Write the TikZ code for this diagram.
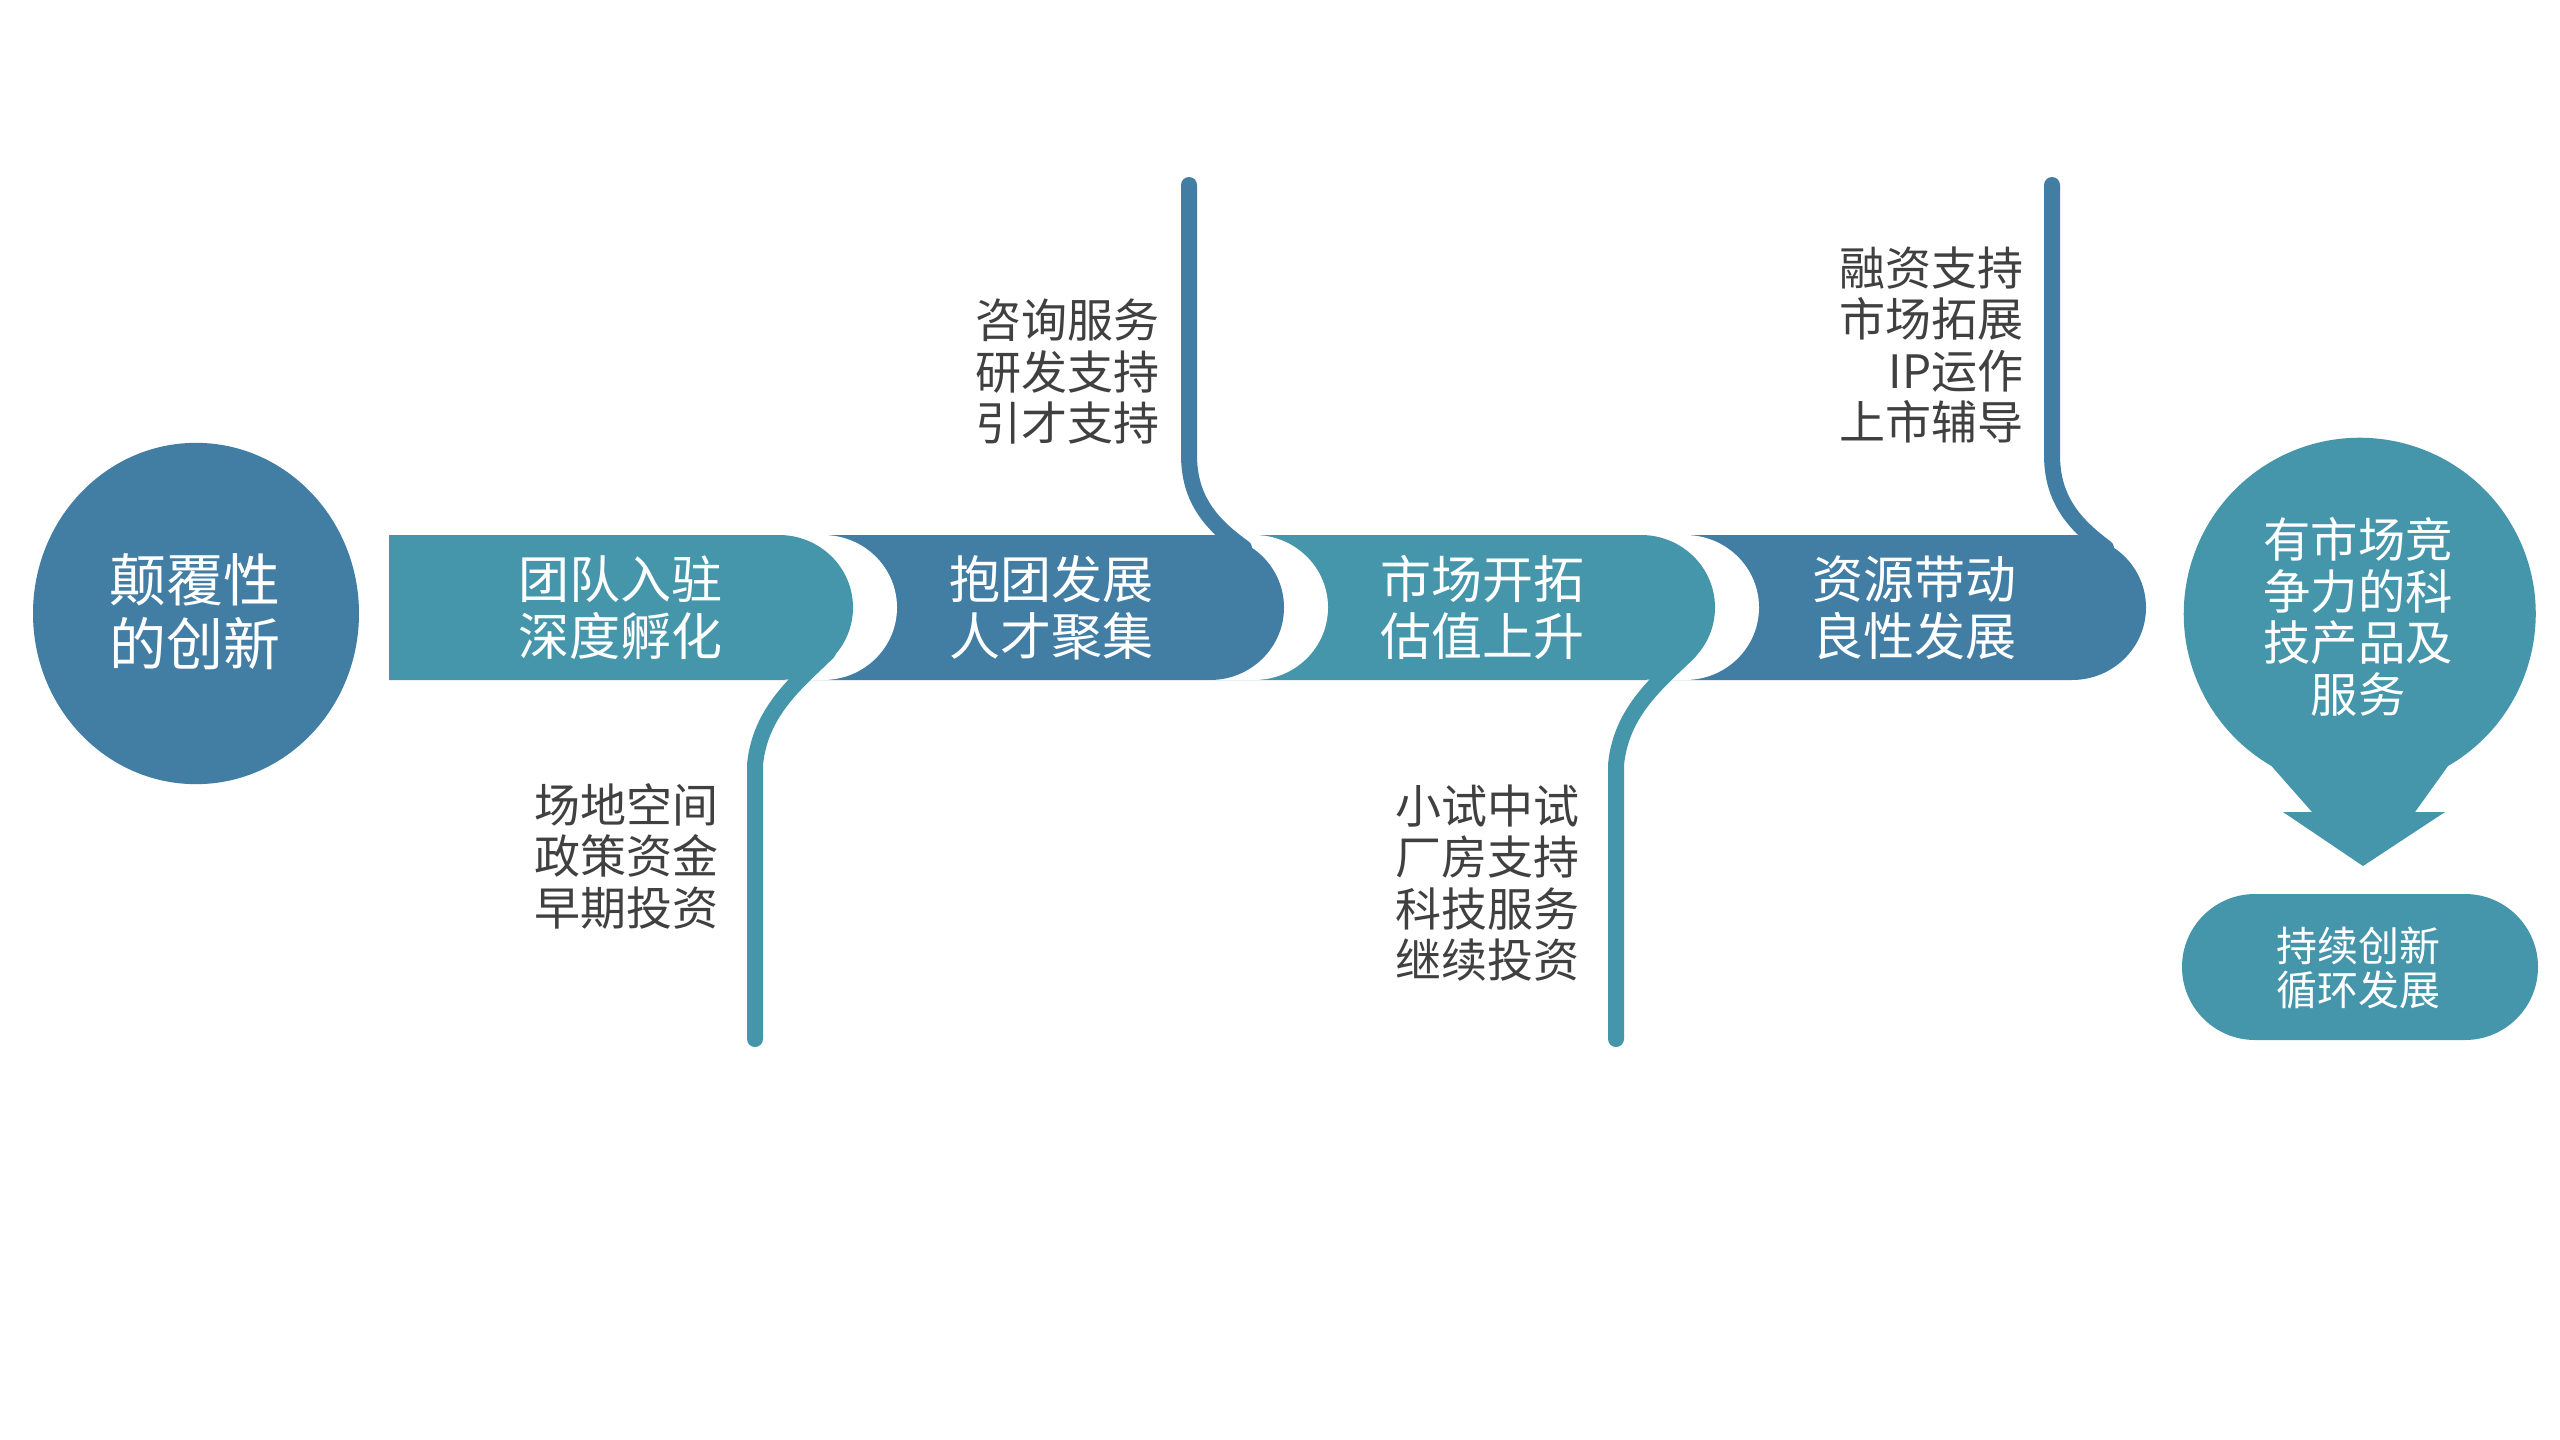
\documentclass[tikz,border=0pt]{standalone}
\usepackage{fontspec}
\setmainfont{Noto Sans CJK SC}
\definecolor{cteal}{HTML}{4596AA}
\definecolor{cblue}{HTML}{427DA4}
\definecolor{cgray}{HTML}{404040}
\begin{document}
\begin{tikzpicture}[x=0.3pt,y=-0.3pt,
  segtext/.style={text=white, align=center, inner sep=0pt, font=\fontsize{15.3pt}{17.1pt}\selectfont},
  sidetext/.style={text=cgray, align=right, anchor=east, inner sep=0pt, font=\fontsize{13.8pt}{15.45pt}\selectfont},
  stem/.style={line width=4.8pt, line cap=round},
  endcap/.style={x radius=22.2pt, y radius=21.75pt}]
\useasboundingbox (0,0) rectangle (2560,1440);
\fill[white] (0,0) rectangle (2560,1440);

% left circle
\fill[cblue] (196,613.5) ellipse[x radius=48.9pt, y radius=51.2pt];
\node[text=white, align=center, inner sep=0pt, font=\fontsize{17.1pt}{19.2pt}\selectfont] (start) at (195,612) {颠覆性\\的创新};

% segment 4
\fill[cblue] (1641,535) -- (2072,535) arc[start angle=90, end angle=-90, endcap] -- (1641,680) -- cycle;
\draw[stem, cblue] (2052,185) -- (2052,455) .. controls (2052,500) and (2075,525) .. (2106,548);
% gap 3|4
\fill[white] (1298,535) -- (1685,535) arc[start angle=90, end angle=-90, endcap] -- (1298,680) -- cycle;
% segment 3
\fill[cteal] (1210,535) -- (1641,535) arc[start angle=90, end angle=-90, endcap] -- (1210,680) -- cycle;
\draw[stem, cteal] (1689,652) .. controls (1661,680) and (1621,710) .. (1616,765) -- (1616,1039);
% gap 2|3
\fill[white] (867,535) -- (1254,535) arc[start angle=90, end angle=-90, endcap] -- (867,680) -- cycle;
% segment 2
\fill[cblue] (779,535) -- (1210,535) arc[start angle=90, end angle=-90, endcap] -- (779,680) -- cycle;
\draw[stem, cblue] (1189,185) -- (1189,455) .. controls (1189,500) and (1212,525) .. (1244,548);
% gap 1|2
\fill[white] (433,535) -- (823,535) arc[start angle=90, end angle=-90, endcap] -- (433,680) -- cycle;
% segment 1
\fill[cteal] (389,535) -- (779,535) arc[start angle=90, end angle=-90, endcap] -- (389,680) -- cycle;
\draw[stem, cteal] (828,652) .. controls (800,680) and (760,710) .. (755,765) -- (755,1039);

% segment texts
\node[segtext] (s1) at (620,607.5) {团队入驻\\深度孵化};
\node[segtext] (s2) at (1051,607.5) {抱团发展\\人才聚集};
\node[segtext] (s3) at (1482,607.5) {市场开拓\\估值上升};
\node[segtext] (s4) at (1914,607.5) {资源带动\\良性发展};

% side texts
\node[sidetext] (t2) at (1160,371.5) {咨询服务\\研发支持\\引才支持};
\node[sidetext] (t4) at (2024,345) {融资支持\\市场拓展\\IP运作\\上市辅导};
\node[sidetext] (b1) at (719,856) {场地空间\\政策资金\\早期投资};
\node[sidetext] (b3) at (1580,883) {小试中试\\厂房支持\\科技服务\\继续投资};

% result teardrop with arrow
\fill[cteal] (2448,766) arc[start angle=-59.9, end angle=239.9, radius=52.8pt]
  -- (2312,812) -- (2283,812) -- (2363,866) -- (2445,812) -- (2415,812) -- cycle;
\node[text=white, align=center, inner sep=0pt, font=\fontsize{14.2pt}{15.45pt}\selectfont] (goal) at (2358,617) {有市场竞\\争力的科\\技产品及\\服务};

% pill
\fill[cteal, rounded corners=21.9pt] (2182,894) rectangle (2538,1040);
\node[text=white, align=center, inner sep=0pt, font=\fontsize{12.3pt}{13.2pt}\selectfont] (loop) at (2358,968) {持续创新\\循环发展};
\end{tikzpicture}
\end{document}
